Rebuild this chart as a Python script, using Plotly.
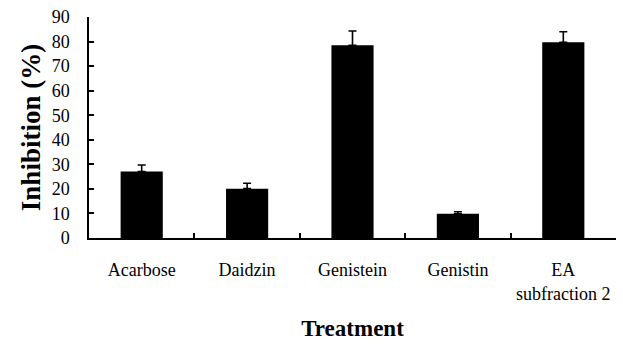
import plotly.graph_objects as go

# Treatments and their mean inhibition with upper error (SD)
treatments = ["Acarbose", "Daidzin", "Genistein", "Genistin", "EA<br>subfraction 2"]
inhibition = [27.1, 20.1, 78.5, 9.9, 79.7]
error_up = [2.6, 2.2, 5.8, 0.8, 4.3]
y_ticks = [0, 10, 20, 30, 40, 50, 60, 70, 80, 90]

FONT = "Liberation Serif, Times New Roman, serif"

fig = go.Figure(
    go.Bar(
        x=treatments,
        y=inhibition,
        width=0.4,
        marker=dict(color="black", line=dict(width=0)),
        error_y=dict(
            type="data",
            symmetric=False,
            array=error_up,
            arrayminus=[0] * len(error_up),
            color="black",
            thickness=1.6,
            width=4,
        ),
    )
)

fig.update_layout(
    width=623,
    height=344,
    margin=dict(l=89, r=7, t=17, b=102),
    paper_bgcolor="white",
    plot_bgcolor="white",
    showlegend=False,
    font=dict(family=FONT, color="black", size=18),
)

fig.update_xaxes(
    type="category",
    showline=True,
    linecolor="black",
    linewidth=1.5,
    ticks="inside",
    tickson="boundaries",
    ticklen=5,
    tickwidth=1.5,
    tickcolor="black",
    showgrid=False,
    tickfont=dict(family=FONT, size=18),
    ticklabelstandoff=15,
    title=dict(text="<b>Treatment</b>", font=dict(family=FONT, size=23), standoff=17),
)

fig.update_yaxes(
    range=[0, 90],
    tickvals=y_ticks,
    showline=True,
    linecolor="black",
    linewidth=1.5,
    ticks="inside",
    ticklen=5,
    tickwidth=1.5,
    tickcolor="black",
    showgrid=False,
    zeroline=False,
    tickfont=dict(family=FONT, size=18),
    ticklabelstandoff=14,
    title=dict(text="<b>Inhibition (%)</b>", font=dict(family=FONT, size=27), standoff=3),
)

fig.write_html("out.html")
